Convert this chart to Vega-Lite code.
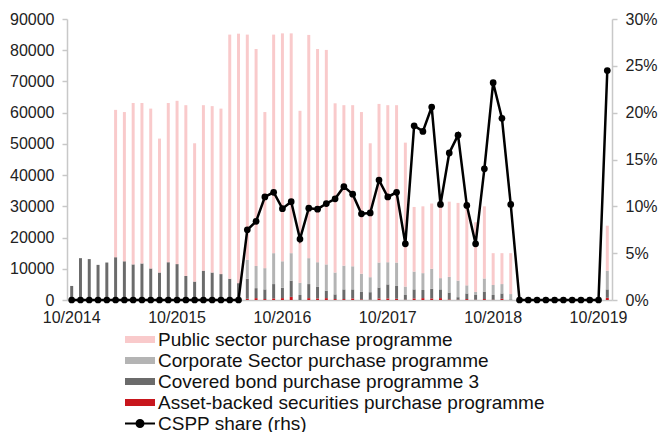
{
  "$schema": "https://vega.github.io/schema/vega-lite/v6.json",
  "width": 545,
  "height": 281,
  "autosize": {"type": "none"},
  "padding": {"left": 67, "top": 19, "right": 46, "bottom": 132},
  "background": "white",
  "config": {
    "view": {"stroke": null},
    "font": "Liberation Sans",
    "axis": {"labelFont": "Liberation Sans", "labelFontSize": 16, "labelColor": "#222222", "grid": false, "domainColor": "#c8c8c8", "tickColor": "#c8c8c8", "domainWidth": 1.5, "tickWidth": 1.5, "title": null}
  },
  "data": {"values": [
    {"m": "10/2014", "PSPP": 0, "CSPP": 0, "CBPP3": 4500, "ABSPP": 0, "share": 0},
    {"m": "11/2014", "PSPP": 0, "CSPP": 0, "CBPP3": 13400, "ABSPP": 0, "share": 0},
    {"m": "12/2014", "PSPP": 0, "CSPP": 0, "CBPP3": 12800, "ABSPP": 300, "share": 0},
    {"m": "01/2015", "PSPP": 0, "CSPP": 0, "CBPP3": 11250, "ABSPP": 0, "share": 0},
    {"m": "02/2015", "PSPP": 0, "CSPP": 0, "CBPP3": 12000, "ABSPP": 0, "share": 0},
    {"m": "03/2015", "PSPP": 47200, "CSPP": 0, "CBPP3": 13600, "ABSPP": 100, "share": 0},
    {"m": "04/2015", "PSPP": 47800, "CSPP": 0, "CBPP3": 12300, "ABSPP": 100, "share": 0},
    {"m": "05/2015", "PSPP": 51700, "CSPP": 0, "CBPP3": 11100, "ABSPP": 300, "share": 0},
    {"m": "06/2015", "PSPP": 51400, "CSPP": 0, "CBPP3": 11300, "ABSPP": 400, "share": 0},
    {"m": "07/2015", "PSPP": 51200, "CSPP": 0, "CBPP3": 10000, "ABSPP": 100, "share": 0},
    {"m": "08/2015", "PSPP": 42900, "CSPP": 0, "CBPP3": 8700, "ABSPP": 100, "share": 0},
    {"m": "09/2015", "PSPP": 51000, "CSPP": 0, "CBPP3": 11700, "ABSPP": 400, "share": 0},
    {"m": "10/2015", "PSPP": 52300, "CSPP": 0, "CBPP3": 11100, "ABSPP": 400, "share": 0},
    {"m": "11/2015", "PSPP": 54700, "CSPP": 0, "CBPP3": 7700, "ABSPP": 0, "share": 0},
    {"m": "12/2015", "PSPP": 44300, "CSPP": 0, "CBPP3": 5900, "ABSPP": 0, "share": 0},
    {"m": "01/2016", "PSPP": 53000, "CSPP": 0, "CBPP3": 8700, "ABSPP": 700, "share": 0},
    {"m": "02/2016", "PSPP": 53300, "CSPP": 0, "CBPP3": 8700, "ABSPP": 100, "share": 0},
    {"m": "03/2016", "PSPP": 53000, "CSPP": 0, "CBPP3": 8200, "ABSPP": 100, "share": 0},
    {"m": "04/2016", "PSPP": 78200, "CSPP": 0, "CBPP3": 6600, "ABSPP": 200, "share": 0},
    {"m": "05/2016", "PSPP": 79900, "CSPP": 0, "CBPP3": 5400, "ABSPP": 0, "share": 0},
    {"m": "06/2016", "PSPP": 72100, "CSPP": 6100, "CBPP3": 6400, "ABSPP": 400, "share": 7.5},
    {"m": "07/2016", "PSPP": 69500, "CSPP": 7100, "CBPP3": 3200, "ABSPP": 600, "share": 8.4},
    {"m": "08/2016", "PSPP": 50000, "CSPP": 6800, "CBPP3": 3100, "ABSPP": 300, "share": 11.0},
    {"m": "09/2016", "PSPP": 70000, "CSPP": 9900, "CBPP3": 4600, "ABSPP": 500, "share": 11.5},
    {"m": "10/2016", "PSPP": 73000, "CSPP": 8500, "CBPP3": 3300, "ABSPP": 600, "share": 9.75},
    {"m": "11/2016", "PSPP": 70400, "CSPP": 8800, "CBPP3": 5200, "ABSPP": 1000, "share": 10.5},
    {"m": "12/2016", "PSPP": 55100, "CSPP": 3900, "CBPP3": 1600, "ABSPP": 0, "share": 6.5},
    {"m": "01/2017", "PSPP": 71500, "CSPP": 8300, "CBPP3": 4500, "ABSPP": 600, "share": 9.8},
    {"m": "02/2017", "PSPP": 68300, "CSPP": 7800, "CBPP3": 3800, "ABSPP": 500, "share": 9.7},
    {"m": "03/2017", "PSPP": 68700, "CSPP": 8400, "CBPP3": 2400, "ABSPP": 600, "share": 10.3},
    {"m": "04/2017", "PSPP": 54200, "CSPP": 7000, "CBPP3": 1500, "ABSPP": 300, "share": 10.8},
    {"m": "05/2017", "PSPP": 51400, "CSPP": 7600, "CBPP3": 3100, "ABSPP": 300, "share": 12.1},
    {"m": "06/2017", "PSPP": 51600, "CSPP": 7400, "CBPP3": 2900, "ABSPP": 500, "share": 11.3},
    {"m": "07/2017", "PSPP": 51800, "CSPP": 5700, "CBPP3": 2500, "ABSPP": 200, "share": 9.2},
    {"m": "08/2017", "PSPP": 42900, "CSPP": 4800, "CBPP3": 2400, "ABSPP": 100, "share": 9.3},
    {"m": "09/2017", "PSPP": 50800, "CSPP": 8000, "CBPP3": 3500, "ABSPP": 500, "share": 12.8},
    {"m": "10/2017", "PSPP": 50300, "CSPP": 7100, "CBPP3": 4500, "ABSPP": 500, "share": 11.0},
    {"m": "11/2017", "PSPP": 50400, "CSPP": 7500, "CBPP3": 4100, "ABSPP": 400, "share": 11.5},
    {"m": "12/2017", "PSPP": 46100, "CSPP": 2700, "CBPP3": 1500, "ABSPP": 100, "share": 6.0},
    {"m": "01/2018", "PSPP": 20700, "CSPP": 5700, "CBPP3": 2900, "ABSPP": 500, "share": 18.6},
    {"m": "02/2018", "PSPP": 21400, "CSPP": 5400, "CBPP3": 2600, "ABSPP": 600, "share": 18.0},
    {"m": "03/2018", "PSPP": 20900, "CSPP": 6400, "CBPP3": 3100, "ABSPP": 500, "share": 20.6},
    {"m": "04/2018", "PSPP": 23800, "CSPP": 3600, "CBPP3": 2800, "ABSPP": 600, "share": 10.2},
    {"m": "05/2018", "PSPP": 24100, "CSPP": 5000, "CBPP3": 2200, "ABSPP": 200, "share": 15.7},
    {"m": "06/2018", "PSPP": 24900, "CSPP": 5300, "CBPP3": 800, "ABSPP": 100, "share": 17.6},
    {"m": "07/2018", "PSPP": 25300, "CSPP": 2600, "CBPP3": 1800, "ABSPP": 300, "share": 10.1},
    {"m": "08/2018", "PSPP": 22300, "CSPP": 1000, "CBPP3": 1500, "ABSPP": 100, "share": 6.0},
    {"m": "09/2018", "PSPP": 23100, "CSPP": 4200, "CBPP3": 2400, "ABSPP": 300, "share": 14.0},
    {"m": "10/2018", "PSPP": 10200, "CSPP": 3200, "CBPP3": 1500, "ABSPP": 100, "share": 23.2},
    {"m": "11/2018", "PSPP": 9900, "CSPP": 3000, "CBPP3": 1700, "ABSPP": 400, "share": 19.4},
    {"m": "12/2018", "PSPP": 13100, "CSPP": 1700, "CBPP3": 200, "ABSPP": 0, "share": 10.2},
    {"m": "01/2019", "PSPP": 0, "CSPP": 0, "CBPP3": 0, "ABSPP": 0, "share": 0},
    {"m": "02/2019", "PSPP": 0, "CSPP": 0, "CBPP3": 0, "ABSPP": 0, "share": 0},
    {"m": "03/2019", "PSPP": 0, "CSPP": 0, "CBPP3": 0, "ABSPP": 0, "share": 0},
    {"m": "04/2019", "PSPP": 0, "CSPP": 0, "CBPP3": 0, "ABSPP": 0, "share": 0},
    {"m": "05/2019", "PSPP": 0, "CSPP": 0, "CBPP3": 0, "ABSPP": 0, "share": 0},
    {"m": "06/2019", "PSPP": 0, "CSPP": 0, "CBPP3": 0, "ABSPP": 0, "share": 0},
    {"m": "07/2019", "PSPP": 0, "CSPP": 0, "CBPP3": 0, "ABSPP": 0, "share": 0},
    {"m": "08/2019", "PSPP": 0, "CSPP": 0, "CBPP3": 0, "ABSPP": 0, "share": 0},
    {"m": "09/2019", "PSPP": 0, "CSPP": 0, "CBPP3": 0, "ABSPP": 0, "share": 0},
    {"m": "10/2019", "PSPP": 0, "CSPP": 0, "CBPP3": 0, "ABSPP": 0, "share": 0},
    {"m": "11/2019", "PSPP": 14400, "CSPP": 6000, "CBPP3": 2700, "ABSPP": 700, "share": 24.5}
  ]},
  "encoding": {
    "x": {
      "field": "m", "type": "ordinal", "sort": null,
      "scale": {"paddingInner": 0.66, "paddingOuter": 0.365},
      "axis": {"values": ["10/2014", "10/2015", "10/2016", "10/2017", "10/2018", "10/2019"], "labelAngle": 0, "ticks": false, "labelPadding": 9, "title": null}
    }
  },
  "layer": [
    {
      "transform": [{"fold": ["ABSPP", "CBPP3", "CSPP", "PSPP"], "as": ["prog", "val"]}],
      "mark": {"type": "bar"},
      "encoding": {
        "y": {"field": "val", "type": "quantitative", "stack": "zero", "scale": {"domain": [0, 90000], "nice": false}, "axis": {"values": [0, 10000, 20000, 30000, 40000, 50000, 60000, 70000, 80000, 90000], "format": "d", "tickSize": 5, "labelPadding": 8, "title": null}},
        "color": {
          "field": "prog", "type": "nominal",
          "scale": {"domain": ["PSPP", "CSPP", "CBPP3", "ABSPP", "share"], "range": ["#f9cacb", "#b4b4b4", "#6b6b6b", "#c8161d", "#000000"]},
          "legend": {
            "orient": "none", "legendX": 63.5, "legendY": 311, "direction": "vertical", "title": null,
            "labelFont": "Liberation Sans", "labelFontSize": 19, "labelColor": "#111111", "labelLimit": 600, "labelOffset": 8.5, "rowPadding": 1,
            "symbolSize": 361, "symbolStrokeWidth": 0,
            "labelExpr": "datum.value === 'PSPP' ? 'Public sector purchase programme' : datum.value === 'CSPP' ? 'Corporate Sector purchase programme' : datum.value === 'CBPP3' ? 'Covered bond purchase programme 3' : datum.value === 'ABSPP' ? 'Asset-backed securities purchase programme' : 'CSPP share (rhs)'",
            "encode": {"symbols": {"update": {
              "shape": {"signal": "datum.value === 'share' ? 'M-1.58,0H1.58M0.37,0A0.37,0.37,0,1,1,-0.37,0A0.37,0.37,0,1,1,0.37,0' : 'M-1.58,-0.37H1.58V0.37H-1.58Z'"},
              "stroke": {"signal": "datum.value === 'share' ? 'black' : 'transparent'"},
              "strokeWidth": {"signal": "datum.value === 'share' ? 2 : 0"}
            }}}
          }
        },
        "order": {"field": "prog", "sort": "ascending"}
      }
    },
    {
      "mark": {"type": "line", "color": "black", "strokeWidth": 2.5, "point": {"filled": true, "size": 45, "color": "black"}},
      "encoding": {
        "y": {"field": "share", "type": "quantitative", "scale": {"domain": [0, 30], "nice": false}, "axis": {"orient": "right", "values": [0, 5, 10, 15, 20, 25, 30], "labelExpr": "datum.value + '%'", "tickSize": 5, "labelPadding": 8, "title": null}}
      }
    }
  ],
  "resolve": {"scale": {"y": "independent"}}
}
